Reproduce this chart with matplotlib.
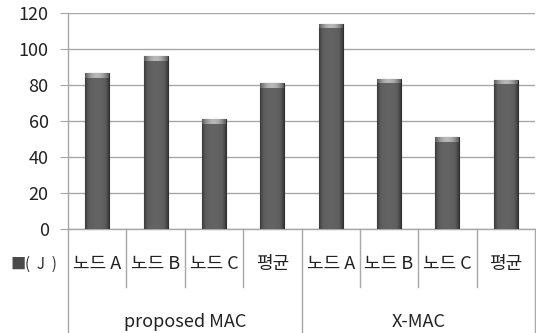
import matplotlib
matplotlib.use("Agg")
import matplotlib.pyplot as plt
import numpy as np
from matplotlib.colors import LinearSegmentedColormap
from matplotlib.transforms import blended_transform_factory

plt.rcParams["font.family"] = ["Noto Sans CJK KR", "DejaVu Sans"]

# data
groups = ["proposed MAC", "X-MAC"]
nodes = ["노드 A", "노드 B", "노드 C", "평균"]
proposed = [86.5, 96, 61, 81]
xmac = [114, 83.5, 51, 83]
legend_label = "(  J  )"

values = proposed + xmac
labels = nodes * len(groups)
x = np.arange(len(values))

fig = plt.figure(figsize=(5.36, 3.33), dpi=100)
ax = fig.add_axes([0.127, 0.312, 0.871, 0.649])

bars = ax.bar(x, values, width=0.41, color="#505050", edgecolor="#303030",
              linewidth=0.8, zorder=3)

# soft horizontal shading: darker sides, lighter middle
body = LinearSegmentedColormap.from_list("body", ["#3a3a3a", "#5c5c5c", "#646464"])
shade = 1 - np.abs(np.linspace(-1, 1, 64)) ** 2
grad = np.tile(shade, (2, 1))
capmap = LinearSegmentedColormap.from_list("cap", ["#5a5a5a", "#b8b8b8"])
for b in bars:
    x0, w, h = b.get_x(), b.get_width(), b.get_height()
    im = ax.imshow(grad, extent=(x0, x0 + w, 0, h), aspect="auto",
                   cmap=body, vmin=0, vmax=1, zorder=4,
                   interpolation="bilinear")
    im.set_clip_path(b)
    # lighter cap at the top of the bar
    cap = ax.imshow(grad, extent=(x0, x0 + w, h - 2.4, h),
                    aspect="auto", cmap=capmap, vmin=0, vmax=1, zorder=5,
                    interpolation="bilinear")
    cap.set_clip_path(b)

ax.set_xlim(-0.5, len(values) - 0.5)
ax.set_ylim(0, 120)
ax.set_yticks(range(0, 121, 20))
ax.tick_params(axis="y", labelsize=13, length=6, color="#a8a8a8",
               colors="#222222", pad=8)
ax.tick_params(axis="x", length=0, labelbottom=False)
ax.yaxis.grid(True, color="#a8a8a8", linewidth=1.0, zorder=0)
ax.set_axisbelow(True)
for s in ["top", "right"]:
    ax.spines[s].set_visible(False)
for s in ["left", "bottom"]:
    ax.spines[s].set_color("#a8a8a8")
    ax.spines[s].set_linewidth(1.0)

# two-level category axis
tr = blended_transform_factory(ax.transData, ax.transAxes)
n_per = len(nodes)
for i, lab in enumerate(labels):
    ax.text(x[i], -0.16, lab, transform=tr, ha="center", va="center",
            fontsize=13, color="#222222", clip_on=False)
for b in np.arange(-0.5, len(values), 1.0):
    low = -0.48 if (b + 0.5) % n_per == 0 else -0.27
    ax.plot([b, b], [0, low], transform=tr, color="#a8a8a8", lw=1.0,
            clip_on=False)
for g, name in enumerate(groups):
    ax.text(g * n_per + (n_per - 1) / 2, -0.43, name, transform=tr,
            ha="center", va="center", fontsize=13, color="#222222",
            clip_on=False)

# legend key on the left
fig.text(0.020, 0.207, "■", fontsize=11, color="#4a4a4a", va="center",
         ha="left")
fig.text(0.046, 0.207, legend_label, fontsize=11, color="#333333",
         va="center", ha="left")

fig.savefig("out.png", dpi=100)
